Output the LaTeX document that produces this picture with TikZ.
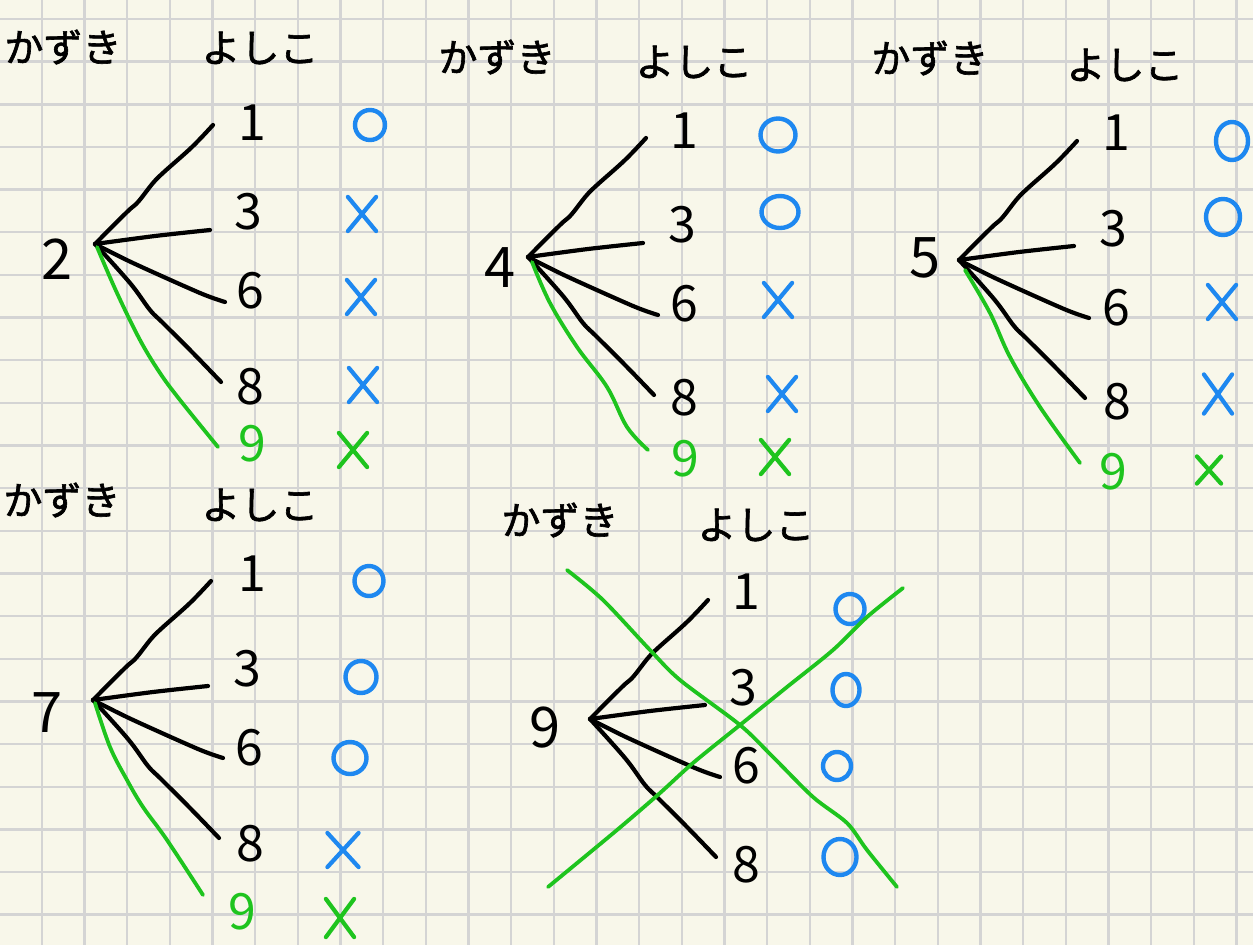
\documentclass[tikz,border=0pt]{standalone}
\usepackage{fontspec}
\newfontfamily\jp{Noto Sans CJK JP}
\newfontfamily\jpb{Noto Sans CJK JP}[FakeBold=1.6]
\usetikzlibrary{shapes.geometric,shapes.misc}
\definecolor{bg}{HTML}{F8F7EA}
\definecolor{gridc}{HTML}{D4D4D4}
\definecolor{blu}{HTML}{1E88F0}
\definecolor{grn}{HTML}{1EC41E}
\tikzset{
  gridline/.style={line width=2.4pt, gridc},
  bk/.style={line width=4.2pt, line cap=round, line join=round, black},
  gr/.style={line width=3.8pt, line cap=round, line join=round, grn},
  num/.style={font=\jp\fontsize{50}{50}\selectfont, inner sep=0pt, text=black},
  gnum/.style={num, text=grn},
  rootnum/.style={font=\jp\fontsize{56}{56}\selectfont, inner sep=0pt},
  hdr/.style={font=\jpb\fontsize{39}{39}\selectfont, inner sep=0pt},
  okmark/.style={ellipse, draw=blu, line width=4.4pt, inner sep=0pt, minimum width=31pt, minimum height=31pt},
  ngmark/.style={cross out, draw=blu, line width=4.2pt, line cap=round, inner sep=0pt, minimum width=24pt, minimum height=30pt},
  gngmark/.style={ngmark, draw=grn}
}
\newcommand\fan[1]{%
  \coordinate (#1r) at (0,0);
  \coordinate (#1a) at (118,-119);
  \coordinate (#1b) at (115,-14);
  \coordinate (#1c) at (130,58);
  \coordinate (#1d) at (126,138);
  \draw[bk] plot[smooth,tension=0.6] coordinates {(#1r) (32,-32) (43,-42) (58,-61) (69,-72) (97,-97) (#1a)};
  \draw[bk] plot[smooth] coordinates {(#1r) (60,-8) (#1b)};
  \draw[bk] plot[smooth] coordinates {(#1r) (38,19) (105,49) (#1c)};
  \draw[bk] plot[smooth,tension=0.6] coordinates {(#1r) (35,39) (55,66) (68,79) (98,109) (#1d)};
}
\begin{document}
\begin{tikzpicture}[x=1pt,y=-1pt]
\useasboundingbox (0,0) rectangle (1253,945);
\fill[bg] (0,0) rectangle (1253,945);
\foreach \i in {0,...,28} \draw[gridline] ({41.7+42.67*\i},0) -- ({41.7+42.67*\i},945);
\foreach \j in {0,...,21} \draw[gridline] (0,{19+42.65*\j}) -- (1253,{19+42.65*\j});

% ---------- tree 1 : 2 ----------
\node[hdr] (h1k) at (63,47) {かずき};
\node[hdr] (h1y) at (260,48) {よしこ};
\node[rootnum] (r1) at (57,259) {2};
\begin{scope}[shift={(95,244)}]
  \fan{t1}
  \coordinate (t1g0) at (2,3);
  \coordinate (t1g) at (123,203);
  \draw[gr] plot[smooth,tension=0.6] coordinates {(t1g0) (22,49) (45,96) (65,129) (85,156) (t1g)};
\end{scope}
\node[num] (t1n1) at (252,123) {1};
\node[num] (t1n3) at (248,212) {3};
\node[num] (t1n6) at (250,291) {6};
\node[num] (t1n8) at (250,387) {8};
\node[gnum] (t1n9) at (252,444) {9};
\node[okmark, minimum width=30pt, minimum height=30pt] (t1m1) at (370,125) {};
\node[ngmark] (t1m3) at (362,214) {};
\node[ngmark] (t1m6) at (361,297) {};
\node[ngmark] (t1m8) at (363,385) {};
\node[gngmark] (t1m9) at (353,450) {};

% ---------- tree 2 : 4 ----------
\node[hdr] (h2k) at (497,57) {かずき};
\node[hdr] (h2y) at (694,62) {よしこ};
\node[rootnum] (r2) at (500,268) {4};
\begin{scope}[shift={(528,257)}]
  \fan{t2}
  \coordinate (t2g0) at (4,5);
  \coordinate (t2g) at (120,193);
  \draw[gr] plot[smooth,tension=0.6] coordinates {(t2g0) (22,46) (49,90) (79,130) (99,170) (t2g)};
\end{scope}
\node[num] (t2n1) at (684,131) {1};
\node[num] (t2n3) at (682,225) {3};
\node[num] (t2n6) at (684,304) {6};
\node[num] (t2n8) at (684,398) {8};
\node[gnum] (t2n9) at (685,459) {9};
\node[okmark, minimum width=35pt, minimum height=33pt] (t2m1) at (778,135) {};
\node[okmark, minimum width=37pt, minimum height=32pt] (t2m3) at (780,212) {};
\node[ngmark] (t2m6) at (778,300) {};
\node[ngmark] (t2m8) at (782,394) {};
\node[gngmark] (t2m9) at (775,457) {};

% ---------- tree 3 : 5 ----------
\node[hdr] (h3k) at (930,58) {かずき};
\node[hdr] (h3y) at (1125,65) {よしこ};
\node[rootnum] (r3) at (925,258) {5};
\begin{scope}[shift={(959,260)}]
  \fan{t3}
  \coordinate (t3g0) at (6,10);
  \coordinate (t3g) at (121,203);
  \draw[gr] plot[smooth,tension=0.6] coordinates {(t3g0) (31,53) (51,97) (81,147) (t3g)};
\end{scope}
\node[num] (t3n1) at (1116,133) {1};
\node[num] (t3n3) at (1113,229) {3};
\node[num] (t3n6) at (1116,308) {6};
\node[num] (t3n8) at (1117,402) {8};
\node[gnum] (t3n9) at (1113,472) {9};
\node[okmark, minimum width=32pt, minimum height=38pt] (t3m1) at (1232,141) {};
\node[okmark, minimum width=34pt, minimum height=36pt] (t3m3) at (1223,217) {};
\node[ngmark] (t3m6) at (1222,302) {};
\node[ngmark, minimum height=35pt] (t3m8) at (1218,394) {};
\node[gngmark, minimum width=20pt, minimum height=23pt] (t3m9) at (1209,470) {};

% ---------- tree 4 : 7 ----------
\node[hdr] (h4k) at (62,500) {かずき};
\node[hdr] (h4y) at (260,505) {よしこ};
\node[rootnum] (r4) at (47,713) {7};
\begin{scope}[shift={(93,700)}]
  \fan{t4}
  \coordinate (t4g0) at (2,3);
  \coordinate (t4g) at (110,195);
  \draw[gr] plot[smooth,tension=0.6] coordinates {(t4g0) (17,47) (34,80) (50,107) (74,140) (t4g)};
\end{scope}
\node[num] (t4n1) at (252,574) {1};
\node[num] (t4n3) at (247,669) {3};
\node[num] (t4n6) at (249,748) {6};
\node[num] (t4n8) at (250,844) {8};
\node[gnum] (t4n9) at (242,912) {9};
\node[okmark, minimum width=29pt, minimum height=30pt] (t4m1) at (369,581) {};
\node[okmark, minimum width=31pt, minimum height=32pt] (t4m3) at (361,677) {};
\node[okmark, minimum width=33pt, minimum height=32pt] (t4m6) at (350,758) {};
\node[ngmark, minimum width=27pt] (t4m8) at (343,850) {};
\node[gngmark, minimum height=34pt] (t4m9) at (340,918) {};

% ---------- tree 5 : 9 ----------
\node[hdr] (h5k) at (560,520) {かずき};
\node[hdr] (h5y) at (756,525) {よしこ};
\node[rootnum] (r5) at (545,728) {9};
\begin{scope}[shift={(590,719)}]
  \fan{t5}
\end{scope}
\node[num] (t5n1) at (746,592) {1};
\node[num] (t5n3) at (743,688) {3};
\node[num] (t5n6) at (746,766) {6};
\node[num] (t5n8) at (746,865) {8};
\node[okmark, minimum width=29pt, minimum height=30pt] (t5m1) at (850,609) {};
\node[okmark, minimum width=27pt, minimum height=32pt] (t5m3) at (846,690) {};
\node[okmark, minimum width=28pt, minimum height=28pt] (t5m6) at (837,766) {};
\node[okmark, minimum width=33pt, minimum height=36pt] (t5m8) at (840,857) {};
\coordinate (xa1) at (567,570);
\coordinate (xa2) at (897,887);
\coordinate (xb1) at (548,887);
\coordinate (xb2) at (903,588);
\draw[gr] plot[smooth,tension=0.5] coordinates {(xa1) (603,600) (650,650) (680,680) (740,725) (773,757) (813,797) (847,823) (867,850) (xa2)};
\draw[gr] plot[smooth,tension=0.5] coordinates {(xb1) (617,830) (660,793) (693,763) (740,725) (787,687) (833,650) (867,617) (xb2)};
\end{tikzpicture}
\end{document}
